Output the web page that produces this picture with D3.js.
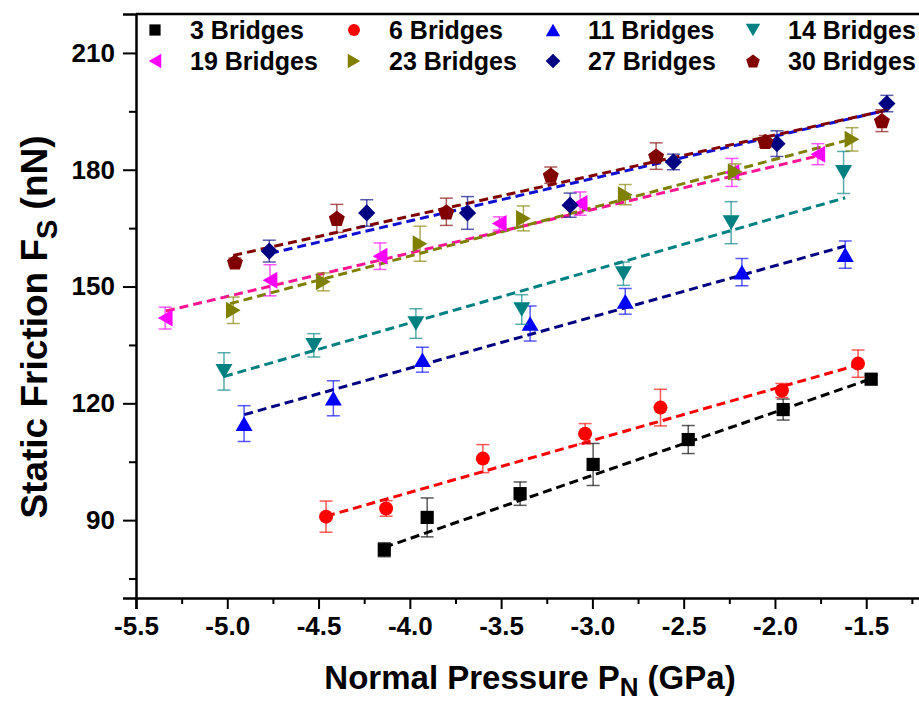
<!DOCTYPE html>
<html>
<head>
<meta charset="utf-8">
<script src="https://cdn.jsdelivr.net/npm/d3@7"></script>
<style>
  html, body { margin: 0; padding: 0; background: #fff; }
  svg { display: block; font-family: "Liberation Sans", Arial, sans-serif; }
</style>
</head>
<body>
<svg id="chart" width="919" height="703"></svg>
<script>
// ---------------- data ----------------
const categories = ["3 Bridges", "6 Bridges", "11 Bridges", "14 Bridges",
                    "19 Bridges", "23 Bridges", "27 Bridges", "30 Bridges"];

const pressure3  = [-4.14, -3.905, -3.396, -2.996, -2.475, -1.955, -1.473];
const friction3  = [82.4, 90.7, 96.8, 104.3, 110.7, 118.4, 126.2];
const error3     = [1.8, 5.0, 3.0, 5.4, 3.6, 2.7, 1.0];

const pressure6  = [-4.459, -4.13, -3.60, -3.04, -2.627, -1.962, -1.545];
const friction6  = [90.9, 93.0, 105.8, 112.2, 118.9, 123.3, 130.2];
const error6     = [4.0, 2.0, 3.6, 2.6, 4.7, 1.8, 3.5];

const pressure11 = [-4.908, -4.419, -3.931, -3.341, -2.82, -2.181, -1.615];
const friction11 = [114.8, 121.3, 131.2, 140.5, 146.2, 153.7, 158.2];
const error11    = [4.6, 4.5, 3.2, 4.5, 3.3, 3.5, 3.5];

const pressure14 = [-5.018, -4.526, -3.967, -3.387, -2.83, -2.24, -1.624];
const friction14 = [128.2, 134.9, 140.5, 144.1, 153.3, 166.4, 179.3];
const error14    = [4.8, 3.0, 3.8, 3.8, 3.0, 5.4, 5.4];

const pressure19 = [-5.34, -4.766, -4.163, -3.51, -3.067, -2.236, -1.765];
const friction19 = [141.9, 151.6, 157.8, 166.2, 171.3, 179.3, 184.0];
const error19    = [2.8, 4.0, 3.4, 1.7, 3.0, 3.6, 2.7];

const pressure23 = [-4.967, -4.474, -3.944, -3.378, -2.82, -2.218, -1.578];
const friction23 = [143.9, 151.2, 161.0, 167.5, 173.6, 179.5, 187.8];
const error23    = [3.4, 2.3, 4.5, 3.2, 2.6, 2.0, 3.0];

const pressure27 = [-4.77, -4.236, -3.684, -3.122, -2.556, -1.989, -1.387];
const friction27 = [159.1, 168.9, 168.9, 170.9, 182.0, 186.7, 197.0];
const error27    = [2.8, 3.4, 4.2, 3.1, 2.0, 3.3, 2.1];

const pressure30 = [-4.958, -4.4, -3.8, -3.228, -2.651, -2.053, -1.414];
const friction30 = [156.3, 167.5, 169.2, 178.6, 183.5, 187.3, 192.6];
const error30    = [1.0, 3.6, 3.5, 2.1, 3.4, 1.5, 2.8];

// linear-fit lines: start pressure/friction, end pressure/friction
const fitStartP = [-4.14, -4.459, -4.907, -5.018, -5.336, -4.985, -4.766, -4.967];
const fitStartF = [83.0, 91.0, 117.1, 126.9, 143.7, 145.6, 158.5, 158.0];
const fitEndP   = [-1.473, -1.55, -1.615, -1.615, -1.77, -1.57, -1.387, -1.387];
const fitEndF   = [126.3, 129.8, 160.4, 172.8, 183.5, 188.0, 195.3, 195.3];

const xTicks = [-5.5, -5.0, -4.5, -4.0, -3.5, -3.0, -2.5, -2.0, -1.5];
const xMinorTicks = [-5.25, -4.75, -4.25, -3.75, -3.25, -2.75, -2.25, -1.75, -1.25];
const yTicks = [90, 120, 150, 180, 210];
const yMinorTicks = [75, 105, 135, 165, 195];

// ---------------- styles ----------------
const markerColors = ["#000000", "#ff0000", "#0000ff", "#008080",
                      "#ff00ff", "#808000", "#000080", "#800000"];
const fitColors    = ["#000000", "#ff0000", "#000080", "#008080",
                      "#ff1493", "#808000", "#1010d0", "#800000"];
const shapes = ["square", "circle", "triUp", "triDown", "triLeft", "triRight", "diamond", "pentagon"];

const seriesData = [
  [pressure3, friction3, error3], [pressure6, friction6, error6],
  [pressure11, friction11, error11], [pressure14, friction14, error14],
  [pressure19, friction19, error19], [pressure23, friction23, error23],
  [pressure27, friction27, error27], [pressure30, friction30, error30]
];

// ---------------- layout ----------------
const L = 136, T = 14, R = 921, B = 598;
const svg = d3.select("#chart");
const x = d3.scaleLinear().domain([-5.5, -1.2]).range([L, R]);
const y = d3.scaleLinear().domain([70, 220]).range([B, T]);

function shapePath(type, s) {
  const p = d3.path();
  if (type === "square") {
    const h = 6.6 * s; p.rect(-h, -h, 2 * h, 2 * h);
  } else if (type === "circle") {
    p.arc(0, 0, 7 * s, 0, 2 * Math.PI);
  } else if (type === "diamond") {
    const r = 8.6 * s;
    p.moveTo(0, -r); p.lineTo(r, 0); p.lineTo(0, r); p.lineTo(-r, 0); p.closePath();
  } else if (type === "pentagon") {
    const r = 8.4 * s;
    for (let i = 0; i < 5; i++) {
      const a = -Math.PI / 2 + i * 2 * Math.PI / 5;
      const px = r * Math.cos(a), py = r * Math.sin(a) + 0.8 * s;
      if (i === 0) p.moveTo(px, py); else p.lineTo(px, py);
    }
    p.closePath();
  } else {
    const w = 17 * s, h = 14.7 * s;
    let pts;
    if (type === "triUp")    pts = [[0, -h / 2], [w / 2, h / 2], [-w / 2, h / 2]];
    if (type === "triDown")  pts = [[0, h / 2], [w / 2, -h / 2], [-w / 2, -h / 2]];
    if (type === "triLeft")  pts = [[-h / 2, 0], [h / 2, -w / 2], [h / 2, w / 2]];
    if (type === "triRight") pts = [[h / 2, 0], [-h / 2, -w / 2], [-h / 2, w / 2]];
    p.moveTo(pts[0][0], pts[0][1]);
    p.lineTo(pts[1][0], pts[1][1]);
    p.lineTo(pts[2][0], pts[2][1]);
    p.closePath();
  }
  return p.toString();
}

// ---------------- axes ----------------
const axisG = svg.append("g");
axisG.append("line").attr("x1", L).attr("x2", R).attr("y1", T).attr("y2", T)
  .attr("stroke", "#000").attr("stroke-width", 2.5);

const xAxis = d3.axisBottom(x).tickValues(xTicks).tickFormat(d3.format(".1f"))
  .tickSize(11).tickPadding(8);
const gx = svg.append("g").attr("transform", `translate(0,${B})`).call(xAxis);
gx.select(".domain").attr("stroke-width", 2.5);
gx.selectAll(".tick line").attr("stroke-width", 2);
gx.selectAll(".tick text").attr("font-size", 26).attr("font-weight", "bold")
  .attr("fill", "#000").attr("font-family", "Liberation Sans, Arial, sans-serif")
  .text(d => d3.format(".1f")(d).replace("−", "-"));
const gxm = svg.append("g").attr("transform", `translate(0,${B})`)
  .call(d3.axisBottom(x).tickValues(xMinorTicks).tickSize(6).tickFormat(""));
gxm.select(".domain").remove();
gxm.selectAll(".tick line").attr("stroke-width", 2);

const yAxis = d3.axisLeft(y).tickValues(yTicks).tickSize(13).tickPadding(8);
const gy = svg.append("g").attr("transform", `translate(${L},0)`).call(yAxis);
gy.select(".domain").attr("stroke-width", 2.5);
gy.selectAll(".tick line").attr("stroke-width", 2);
gy.selectAll(".tick text").attr("font-size", 26).attr("font-weight", "bold")
  .attr("fill", "#000").attr("font-family", "Liberation Sans, Arial, sans-serif");
const gym = svg.append("g").attr("transform", `translate(${L},0)`)
  .call(d3.axisLeft(y).tickValues(yMinorTicks).tickSize(7).tickFormat(""));
gym.select(".domain").remove();
gym.selectAll(".tick line").attr("stroke-width", 2);

// axis titles
const xt = svg.append("text").attr("x", 530).attr("y", 689)
  .attr("text-anchor", "middle").attr("font-size", 33).attr("font-weight", "bold");
xt.append("tspan").text("Normal Pressure P");
xt.append("tspan").attr("font-size", 26).attr("dy", 7).text("N");
xt.append("tspan").attr("dy", -7).text(" (GPa)");

const yt = svg.append("text").attr("transform", `translate(47,327) rotate(-90)`)
  .attr("text-anchor", "middle").attr("font-size", 37).attr("font-weight", "bold");
yt.append("tspan").text("Static Friction F");
yt.append("tspan").attr("font-size", 29).attr("dy", 10).text("S");
yt.append("tspan").attr("dy", -10).text(" (nN)");

// ---------------- plot ----------------
const plot = svg.append("g");

categories.forEach((c, i) => {
  plot.append("line")
    .attr("x1", x(fitStartP[i])).attr("y1", y(fitStartF[i]))
    .attr("x2", x(fitEndP[i])).attr("y2", y(fitEndF[i]))
    .attr("stroke", fitColors[i]).attr("stroke-width", 3)
    .attr("stroke-dasharray", "9,5");
});

categories.forEach((c, i) => {
  const [px, fy, er] = seriesData[i];
  const g = plot.append("g");
  const pts = px.map((v, k) => ({ p: v, f: fy[k], e: er[k] }));
  const eb = g.selectAll(".eb").data(pts).enter().append("g")
    .attr("stroke", markerColors[i]).attr("stroke-opacity", 0.65).attr("stroke-width", 1.5);
  eb.append("line").attr("x1", d => x(d.p)).attr("x2", d => x(d.p))
    .attr("y1", d => y(d.f - d.e)).attr("y2", d => y(d.f + d.e));
  eb.append("line").attr("x1", d => x(d.p) - 6.5).attr("x2", d => x(d.p) + 6.5)
    .attr("y1", d => y(d.f + d.e)).attr("y2", d => y(d.f + d.e));
  eb.append("line").attr("x1", d => x(d.p) - 6.5).attr("x2", d => x(d.p) + 6.5)
    .attr("y1", d => y(d.f - d.e)).attr("y2", d => y(d.f - d.e));
  g.selectAll(".mk").data(pts).enter().append("path")
    .attr("d", shapePath(shapes[i], 1))
    .attr("transform", d => `translate(${x(d.p)},${y(d.f)})`)
    .attr("fill", markerColors[i]);
});

// ---------------- legend ----------------
const legendCols = [155, 354, 553, 753];
const legendRows = [30, 61];
categories.forEach((c, i) => {
  const col = i % 4, row = Math.floor(i / 4);
  const lx = legendCols[col], ly = legendRows[row];
  svg.append("path").attr("d", shapePath(shapes[i], 0.85))
    .attr("transform", `translate(${lx},${ly})`).attr("fill", markerColors[i]);
  svg.append("text").attr("x", lx + 35).attr("y", ly + 9)
    .attr("font-size", 25).attr("font-weight", "bold").text(c);
});
</script>
</body>
</html>
